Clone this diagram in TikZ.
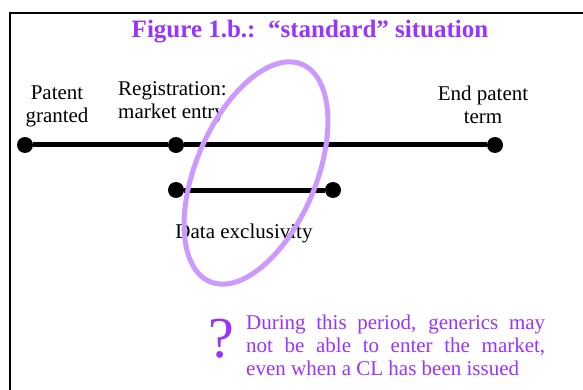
\documentclass[tikz,border=0pt]{standalone}
\usepackage{fontspec}
\setmainfont{Liberation Serif}
\definecolor{titlepurple}{RGB}{153,51,255}
\definecolor{notepurple}{RGB}{153,51,255}
\definecolor{ellpurple}{RGB}{204,153,255}
\tikzset{
  dot/.style={circle,fill=black,inner sep=0pt,minimum size=16pt},
  tline/.style={line width=5pt},
  lbl/.style={font=\fontsize{21}{23}\selectfont,inner sep=0pt,align=center},
  notel/.style={font=\fontsize{21}{23}\selectfont,text=notepurple,inner sep=0pt,anchor=base west}
}
\begin{document}
\begin{tikzpicture}[x=1pt,y=-1pt]
\useasboundingbox (0,0) rectangle (583,390);
% frame
\draw[line width=2pt] (10,392) -- (10,13) -- (585,13);
% title
\node[font=\bfseries\fontsize{25}{27}\selectfont,text=titlepurple,inner sep=0pt] (title) at (310,32) {Figure 1.b.:\ \ “standard” situation};
% timeline
\node[dot] (p) at (25,145) {};
\node[dot] (r) at (176,145) {};
\node[dot] (e) at (495,145) {};
\draw[tline] (p) -- (r) -- (e);
\node[dot] (d1) at (176,190) {};
\node[dot] (d2) at (333,190) {};
\draw[tline] (d1) -- (d2);
% labels
\node[lbl] (lp) at (57,106) {Patent\\granted};
\node[lbl,align=left,anchor=north west] (lr) at (118,81) {Registration:\\market entry};
\node[lbl] (le) at (483,105) {End patent\\term};
\node[lbl] (ld) at (244,233) {Data exclusivity};
% ellipse
\draw[ellpurple,line width=5pt,rotate around={-23:(256,173)}] (256,173) ellipse [x radius=60,y radius=118];
% note
\node[font=\fontsize{58}{58}\selectfont,text=notepurple,inner sep=0pt] (q) at (221,339) {?};
\node[notel] (n1) at (246,329) {\hbox to 299pt{During this period, generics may}};
\node[notel] (n2) at (246,352) {\hbox to 299pt{not be able to enter the market,}};
\node[notel] (n3) at (246,375) {even when a CL has been issued};
\end{tikzpicture}
\end{document}
